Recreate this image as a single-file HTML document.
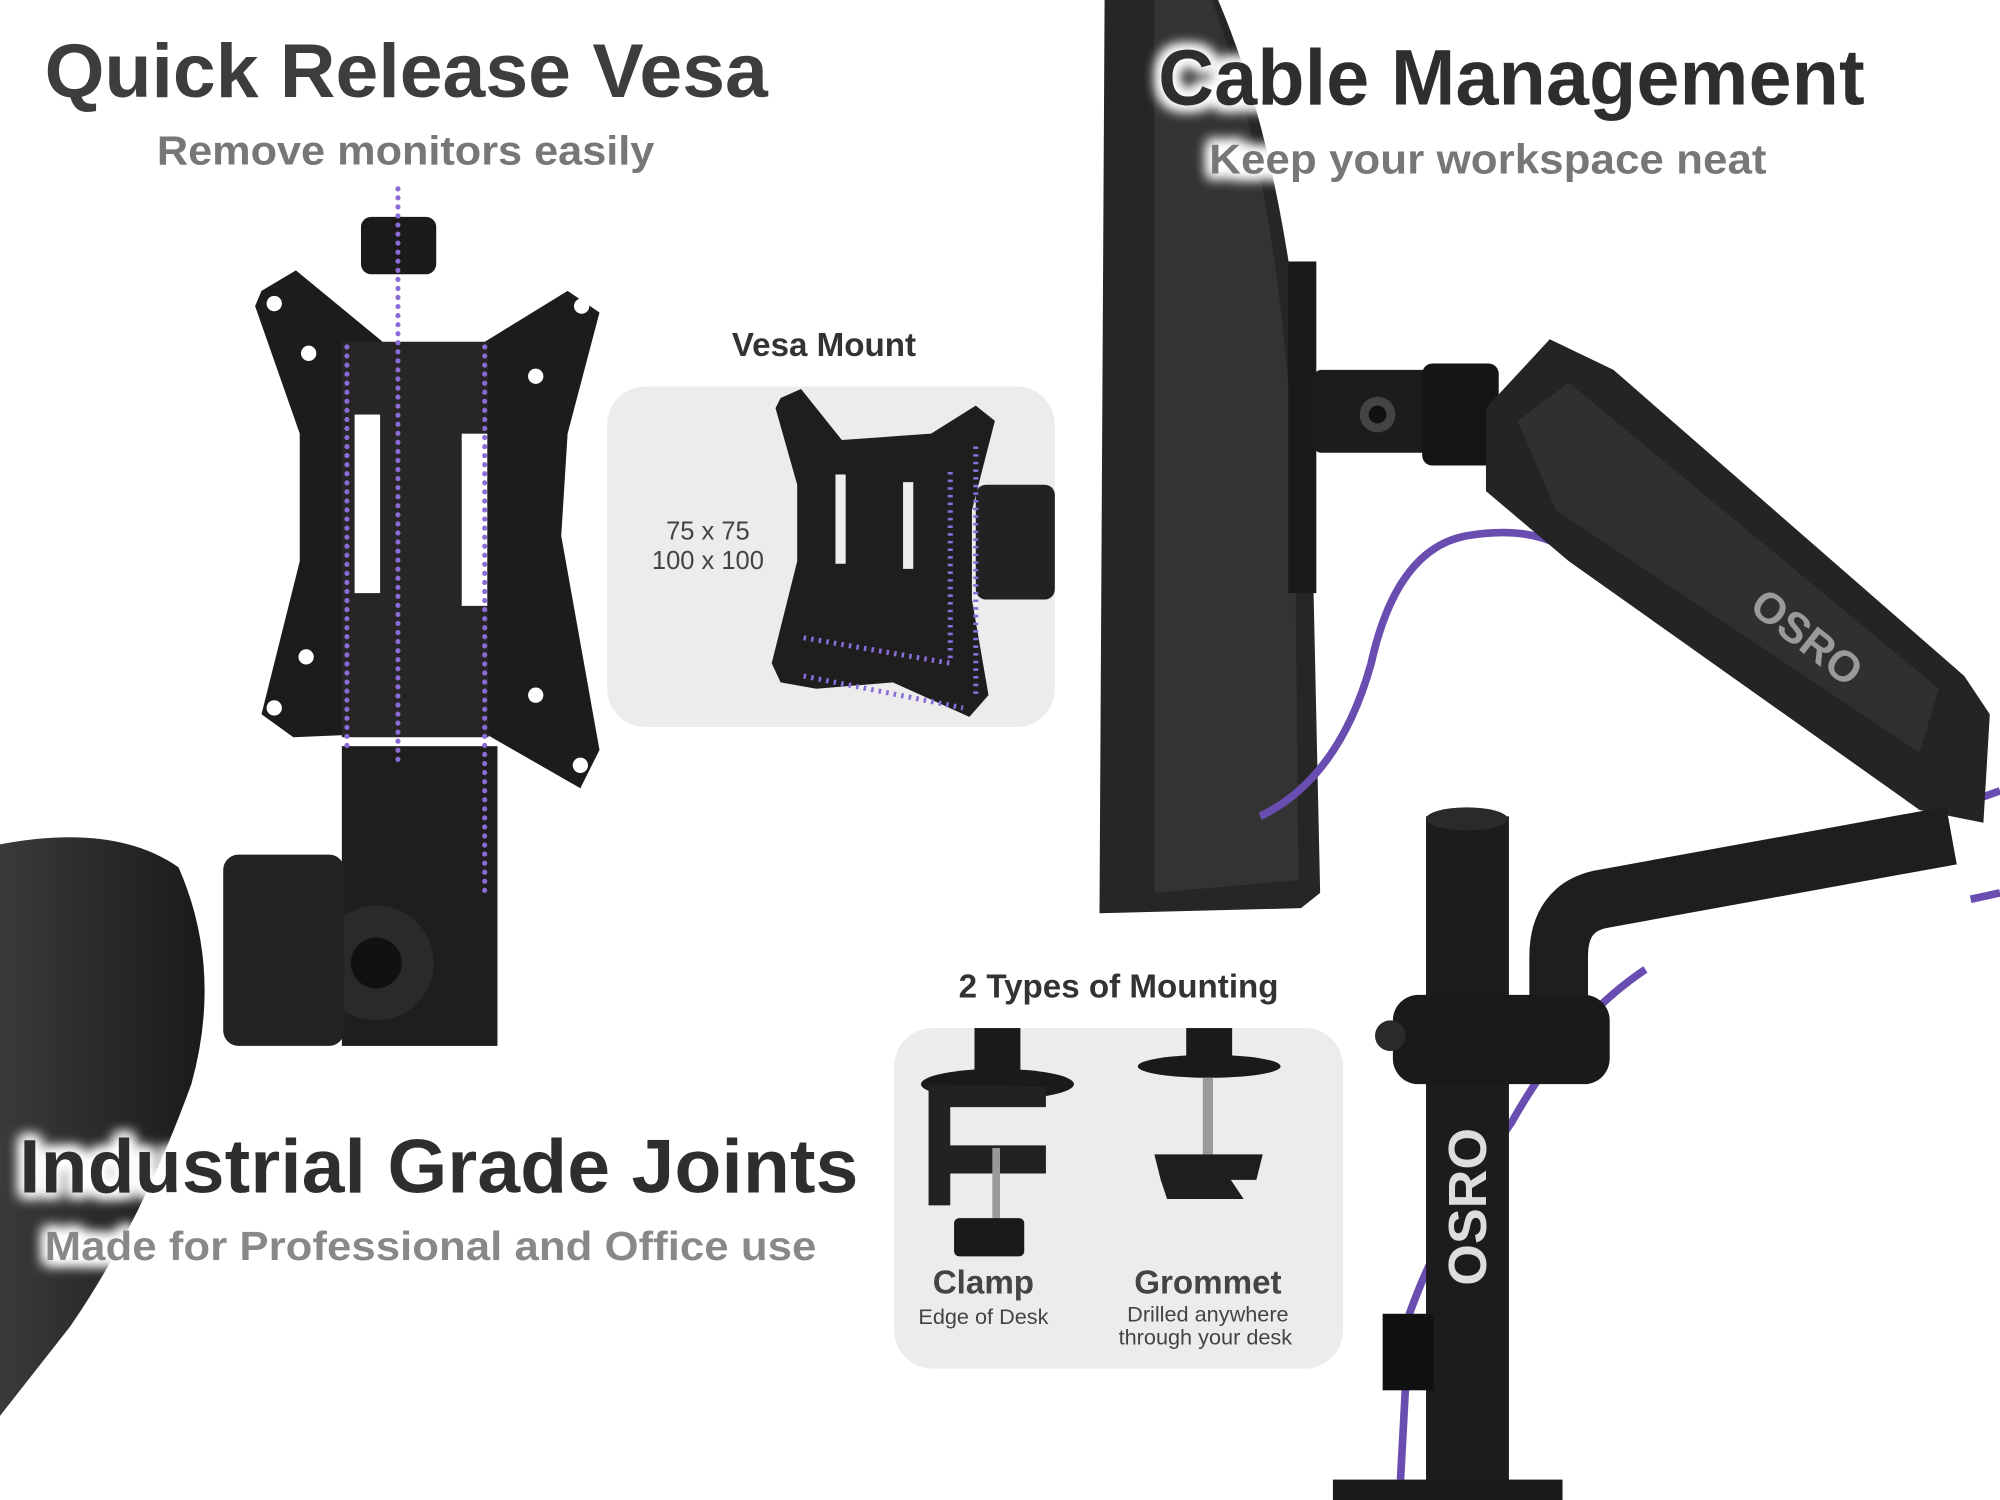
<!DOCTYPE html>
<html><head><meta charset="utf-8"><style>
html,body{margin:0;padding:0;background:#fff;width:2000px;height:1500px;overflow:hidden}
svg{display:block}
text{font-family:"Liberation Sans",sans-serif}
</style></head><body>
<svg width="2000" height="1500" viewBox="0 0 1568 1176" xmlns="http://www.w3.org/2000/svg">
<rect width="1568" height="1176" fill="#fff"/>
<defs>
<linearGradient id="armg" x1="0" y1="0" x2="1" y2="0"><stop offset="0" stop-color="#3a3a3a"/><stop offset="1" stop-color="#1a1a1a"/></linearGradient>
<filter id="glow" x="-10%" y="-30%" width="120%" height="160%"><feMorphology in="SourceAlpha" operator="dilate" radius="3" result="d"/><feGaussianBlur in="d" stdDeviation="5" result="b"/><feFlood flood-color="#fff"/><feComposite in2="b" operator="in" result="w"/><feMerge><feMergeNode in="w"/><feMergeNode in="w"/><feMergeNode in="SourceGraphic"/></feMerge></filter>
</defs>

<path d="M866,0 L955,0 Q1015,140 1028,380 L1035,700 L1020,712 L862,716 Z" fill="#262626"/>
<path d="M905,0 L950,0 Q1005,150 1015,380 L1018,690 L905,700 Z" fill="#333"/>
<rect x="1010" y="205" width="22" height="260" fill="#1a1a1a"/>
<rect x="1030" y="290" width="130" height="65" rx="6" fill="#1c1c1c"/>
<circle cx="1080" cy="325" r="14" fill="#444"/><circle cx="1080" cy="325" r="7" fill="#111"/>
<rect x="1115" y="285" width="60" height="80" rx="8" fill="#151515"/>

<path d="M988,640 Q1050,610 1075,520 Q1095,430 1150,420 Q1210,410 1240,440 L1540,630" fill="none" stroke="#6a4db0" stroke-width="6"/>
<path d="M1290,760 Q1230,800 1185,880 Q1130,960 1105,1030 L1098,1160" fill="none" stroke="#6a4db0" stroke-width="6"/>
<path d="M1540,630 L1568,620" stroke="#6a4db0" stroke-width="6"/>
<path d="M1545,705 L1568,700" stroke="#6a4db0" stroke-width="6"/>

<polygon points="1165,320 1215,266 1265,290 1540,530 1560,560 1555,645 1505,635 1230,440 1165,385" fill="#242424"/>
<polygon points="1190,330 1230,300 1520,540 1505,590 1220,400" fill="#303030"/>
<text x="0" y="0" font-size="34" font-weight="bold" fill="#9a9a9a" transform="translate(1370,478) rotate(38)">OSRO</text>

<path d="M1530,655 L1255,705 Q1222,712 1222,750 L1222,790" fill="none" stroke="#1e1e1e" stroke-width="46"/>
<rect x="1118" y="640" width="65" height="536" fill="#1c1c1c"/>
<ellipse cx="1150" cy="642" rx="32" ry="9" fill="#2a2a2a"/>
<rect x="1092" y="780" width="170" height="70" rx="20" fill="#1a1a1a"/>
<circle cx="1090" cy="812" r="12" fill="#2a2a2a"/>
<rect x="1084" y="1030" width="40" height="60" fill="#111"/>
<text x="0" y="0" font-size="42" font-weight="bold" fill="#ddd" transform="translate(1165,1008) rotate(-90)">OSRO</text>
<rect x="1045" y="1160" width="180" height="16" fill="#1a1a1a"/>

<polygon points="205,228 232,212 300,268 380,268 445,228 470,245 445,340 440,420 470,588 455,618 380,575 300,575 230,578 205,560 235,440 235,340 200,240" fill="#1c1c1c"/>
<rect x="268" y="268" width="115" height="310" fill="#262626"/>
<rect x="278" y="325" width="20" height="140" fill="#fff"/>
<rect x="362" y="340" width="20" height="135" fill="#fff"/>
<g fill="#fff"><circle cx="215" cy="238" r="6"/><circle cx="242" cy="277" r="6"/><circle cx="456" cy="240" r="6"/><circle cx="420" cy="295" r="6"/><circle cx="240" cy="515" r="6"/><circle cx="215" cy="555" r="6"/><circle cx="420" cy="545" r="6"/><circle cx="455" cy="600" r="6"/></g>
<rect x="283" y="170" width="59" height="45" rx="8" fill="#1a1a1a"/>
<rect x="268" y="585" width="122" height="235" fill="#1e1e1e"/>
<circle cx="295" cy="755" r="45" fill="#2a2a2a"/><circle cx="295" cy="755" r="20" fill="#111"/>
<rect x="175" y="670" width="95" height="150" rx="12" fill="#232323"/>
<path d="M0,662 Q90,645 140,680 Q175,760 150,850 Q110,960 55,1040 L0,1110 Z" fill="url(#armg)"/>

<g stroke="#8a6cd6" stroke-width="4" stroke-linecap="round" stroke-dasharray="0.1,7" fill="none">
<line x1="312" y1="148" x2="312" y2="600"/>
<line x1="272" y1="272" x2="272" y2="590"/>
<line x1="380" y1="272" x2="380" y2="700"/>
</g>

<text x="646" y="279" font-size="26" font-weight="bold" fill="#333" text-anchor="middle">Vesa Mount</text>
<rect x="476" y="303" width="351" height="267" rx="30" fill="#ececec"/>
<text x="555" y="423" font-size="20" fill="#444" text-anchor="middle">75 x 75</text>
<text x="555" y="446" font-size="20" fill="#444" text-anchor="middle">100 x 100</text>
<polygon points="612,312 628,305 660,345 730,340 765,318 780,330 762,400 762,470 775,545 760,562 700,535 640,540 612,535 605,520 625,440 625,380 608,320" fill="#1e1e1e"/>
<rect x="655" y="372" width="8" height="70" fill="#eee"/><rect x="708" y="378" width="8" height="68" fill="#eee"/>
<rect x="765" y="380" width="62" height="90" rx="8" fill="#222"/>
<g stroke="#8a6cd6" stroke-width="4" stroke-dasharray="2,4" fill="none"><line x1="630" y1="500" x2="745" y2="520"/><line x1="630" y1="530" x2="755" y2="555"/><line x1="745" y1="370" x2="745" y2="520"/><line x1="765" y1="350" x2="765" y2="545"/></g>

<text x="877" y="782" font-size="26" font-weight="bold" fill="#333" text-anchor="middle">2 Types of Mounting</text>
<rect x="701" y="806" width="352" height="267" rx="30" fill="#ececec"/>
<rect x="764" y="806" width="36" height="44" fill="#1a1a1a"/>
<ellipse cx="782" cy="850" rx="60" ry="12" fill="#1a1a1a"/>
<path d="M728,850 L728,945 L745,945 L745,920 L820,920 L820,898 L745,898 L745,868 L820,868 L820,852 Z" fill="#222"/>
<rect x="778" y="900" width="6" height="60" fill="#999"/>
<rect x="748" y="955" width="55" height="30" rx="4" fill="#1a1a1a"/>
<text x="771" y="1014" font-size="26" font-weight="bold" fill="#444" text-anchor="middle">Clamp</text>
<text x="771" y="1038" font-size="17" fill="#444" text-anchor="middle">Edge of Desk</text>
<rect x="930" y="806" width="36" height="28" fill="#1a1a1a"/>
<ellipse cx="948" cy="836" rx="56" ry="9" fill="#1a1a1a"/>
<rect x="943" y="845" width="8" height="60" fill="#999"/>
<path d="M905,905 L990,905 L985,925 L965,925 L975,940 L915,940 L910,925 Z" fill="#1e1e1e"/>
<text x="947" y="1014" font-size="26" font-weight="bold" fill="#444" text-anchor="middle">Grommet</text>
<text x="947" y="1036" font-size="17" fill="#444" text-anchor="middle">Drilled anywhere</text>
<text x="945" y="1054" font-size="17" fill="#444" text-anchor="middle">through your desk</text>

<text x="35" y="76" font-size="60" font-weight="bold" fill="#3d3d3d" textLength="567" lengthAdjust="spacingAndGlyphs">Quick Release Vesa</text>
<text x="123" y="129" font-size="32" font-weight="bold" fill="#777" textLength="390" lengthAdjust="spacingAndGlyphs">Remove monitors easily</text>
<g filter="url(#glow)">
<text x="908" y="82" font-size="62" font-weight="bold" fill="#2e2e2e" textLength="554" lengthAdjust="spacingAndGlyphs">Cable Management</text>
<text x="948" y="136" font-size="33" font-weight="bold" fill="#777" textLength="437" lengthAdjust="spacingAndGlyphs">Keep your workspace neat</text>
<text x="15" y="935" font-size="60" font-weight="bold" fill="#2e2e2e" textLength="658" lengthAdjust="spacingAndGlyphs">Industrial Grade Joints</text>
<text x="35" y="988" font-size="32" font-weight="bold" fill="#888" textLength="605" lengthAdjust="spacingAndGlyphs">Made for Professional and Office use</text>
</g>
</svg>
</body></html>
